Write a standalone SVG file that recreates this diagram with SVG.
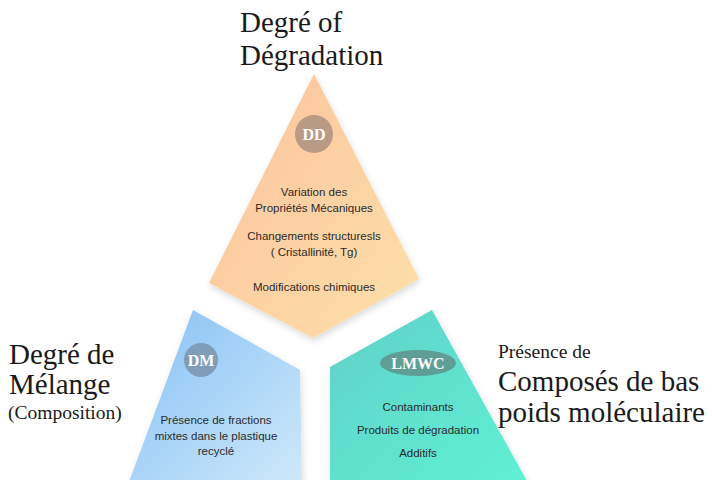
<svg xmlns="http://www.w3.org/2000/svg" width="712" height="480" viewBox="0 0 712 480">
<defs>
<linearGradient id="gO" x1="0" y1="0" x2="1" y2="1">
<stop offset="0" stop-color="#FCC29E"/><stop offset="1" stop-color="#FDE0A8"/>
</linearGradient>
<linearGradient id="gB" x1="0" y1="0" x2="1" y2="1">
<stop offset="0" stop-color="#86C0F4"/><stop offset="1" stop-color="#CFE9FA"/>
</linearGradient>
<linearGradient id="gT" x1="0" y1="0" x2="1" y2="1">
<stop offset="0" stop-color="#62D0C8"/><stop offset="1" stop-color="#5EF2D4"/>
</linearGradient>
<filter id="sh" x="-10%" y="-10%" width="120%" height="120%">
<feDropShadow dx="1" dy="3" stdDeviation="3" flood-color="#000" flood-opacity="0.15"/>
</filter>
<style>
.big{font-family:"Liberation Serif","Times New Roman",serif;fill:#1a1a1a}
.sm{font-family:"Liberation Sans",Arial,sans-serif;font-size:11.5px;fill:#2b2b2b;text-anchor:middle}
.badge{font-family:"Liberation Serif",serif;font-weight:bold;fill:#fff;text-anchor:middle;font-size:16px}
</style>
</defs>
<rect width="712" height="480" fill="#fff"/>
<g id="labels">
<text class="big" x="240" y="32" font-size="29">Degré of</text>
<text class="big" x="240" y="65" font-size="29">Dégradation</text>
<text class="big" x="9" y="364" font-size="29">Degré de</text>
<text class="big" x="9" y="394" font-size="29">Mélange</text>
<text class="big" x="8" y="419" font-size="19.5">(Composition)</text>
<text class="big" x="498" y="358" font-size="19.5">Présence de</text>
<text class="big" x="498" y="391" font-size="29">Composés de bas</text>
<text class="big" x="498" y="422" font-size="29">poids moléculaire</text>
</g>
<g id="DD">
<polygon points="314,74 419,279 313,338 209,283" fill="url(#gO)" filter="url(#sh)"/>
<circle cx="314" cy="134" r="19" fill="#B99A84"/>
<text class="badge" x="314" y="139.5">DD</text>
<text class="sm" x="314" y="196">Variation des</text>
<text class="sm" x="314" y="212">Propriétés Mécaniques</text>
<text class="sm" x="314" y="240">Changements structuresls</text>
<text class="sm" x="314" y="256">( Cristallinité, Tg)</text>
<text class="sm" x="314" y="291">Modifications chimiques</text>
</g>
<g id="DM">
<polygon points="193,310 300,370 302,490 126,490" fill="url(#gB)" filter="url(#sh)"/>
<circle cx="201" cy="360" r="17" fill="#7F9DB9"/>
<text class="badge" x="201" y="365.5">DM</text>
<text class="sm" x="216" y="424">Présence de fractions</text>
<text class="sm" x="216" y="440">mixtes dans le plastique</text>
<text class="sm" x="216" y="455">recyclé</text>
</g>
<g id="LMWC">
<polygon points="432,310 532,490 330,490 330,367" fill="url(#gT)" filter="url(#sh)"/>
<ellipse cx="418" cy="363" rx="38" ry="13" fill="#5E9E94"/>
<text class="badge" x="418" y="368.5">LMWC</text>
<text class="sm" x="418" y="411">Contaminants</text>
<text class="sm" x="418" y="434">Produits de dégradation</text>
<text class="sm" x="418" y="457">Additifs</text>
</g>
<g id="connectors"/>
</svg>
